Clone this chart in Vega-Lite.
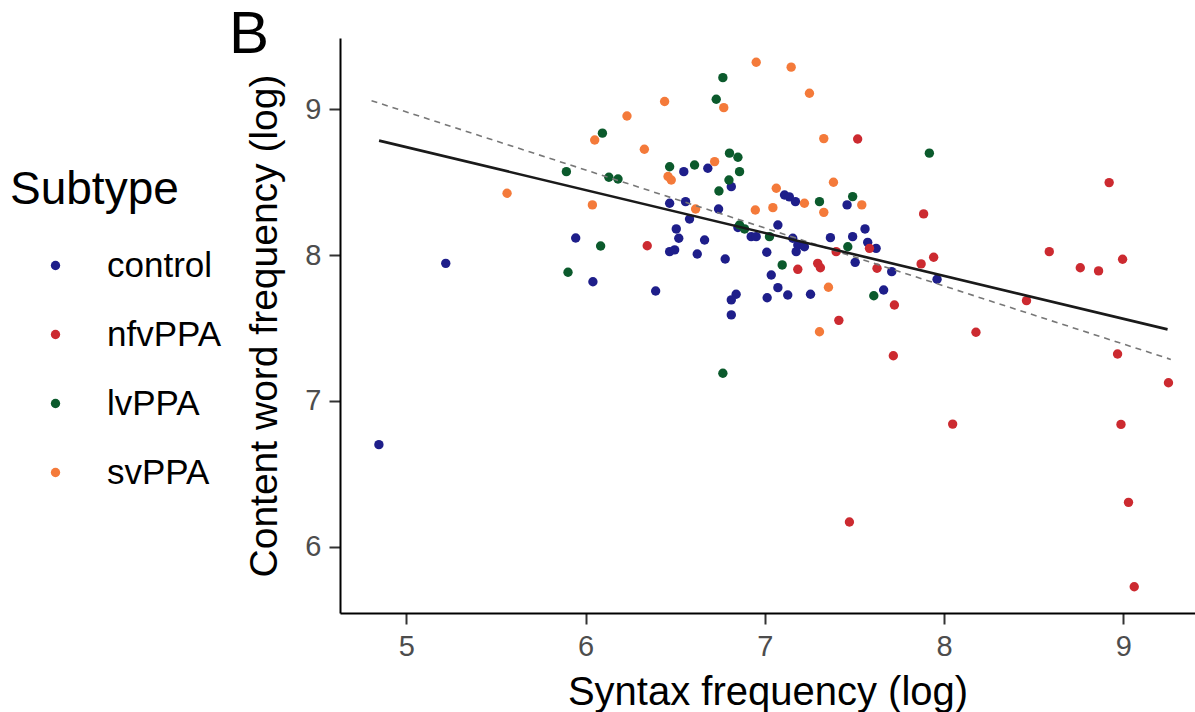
{
  "$schema": "https://vega.github.io/schema/vega-lite/v6.json",
  "width": 855,
  "height": 575,
  "autosize": {"type": "none"},
  "padding": {"left": 340, "top": 38, "right": 0, "bottom": 99},
  "background": "white",
  "title": {"text": "B", "anchor": "start", "frame": "bounds", "orient": "top", "fontSize": 60, "font": "Liberation Sans", "fontWeight": "normal", "color": "black", "dx": 219, "baseline": "alphabetic", "offset": -75},
  "datasets": {
    "points": [
      {"subtype": "control", "syntax": 4.847, "content": 6.70},
      {"subtype": "control", "syntax": 5.220, "content": 7.944},
      {"subtype": "control", "syntax": 5.945, "content": 8.118},
      {"subtype": "control", "syntax": 6.041, "content": 7.818},
      {"subtype": "control", "syntax": 6.391, "content": 7.754},
      {"subtype": "control", "syntax": 6.469, "content": 8.356},
      {"subtype": "control", "syntax": 6.558, "content": 8.367},
      {"subtype": "control", "syntax": 6.548, "content": 8.573},
      {"subtype": "control", "syntax": 6.682, "content": 8.596},
      {"subtype": "control", "syntax": 6.742, "content": 8.317},
      {"subtype": "control", "syntax": 6.580, "content": 8.248},
      {"subtype": "control", "syntax": 6.506, "content": 8.180},
      {"subtype": "control", "syntax": 6.520, "content": 8.116},
      {"subtype": "control", "syntax": 6.469, "content": 8.024},
      {"subtype": "control", "syntax": 6.497, "content": 8.036},
      {"subtype": "control", "syntax": 6.664, "content": 8.104},
      {"subtype": "control", "syntax": 6.623, "content": 8.008},
      {"subtype": "control", "syntax": 6.779, "content": 7.974},
      {"subtype": "control", "syntax": 6.840, "content": 7.732},
      {"subtype": "control", "syntax": 6.813, "content": 7.693},
      {"subtype": "control", "syntax": 6.813, "content": 7.590},
      {"subtype": "control", "syntax": 6.813, "content": 8.470},
      {"subtype": "control", "syntax": 7.110, "content": 8.413},
      {"subtype": "control", "syntax": 7.137, "content": 8.400},
      {"subtype": "control", "syntax": 7.171, "content": 8.367},
      {"subtype": "control", "syntax": 7.073, "content": 8.207},
      {"subtype": "control", "syntax": 6.924, "content": 8.127},
      {"subtype": "control", "syntax": 6.952, "content": 8.127},
      {"subtype": "control", "syntax": 7.156, "content": 8.116},
      {"subtype": "control", "syntax": 7.184, "content": 8.070},
      {"subtype": "control", "syntax": 7.221, "content": 8.058},
      {"subtype": "control", "syntax": 7.175, "content": 8.024},
      {"subtype": "control", "syntax": 7.366, "content": 8.120},
      {"subtype": "control", "syntax": 7.490, "content": 8.127},
      {"subtype": "control", "syntax": 7.559, "content": 8.180},
      {"subtype": "control", "syntax": 7.574, "content": 8.088},
      {"subtype": "control", "syntax": 7.621, "content": 8.047},
      {"subtype": "control", "syntax": 7.011, "content": 8.020},
      {"subtype": "control", "syntax": 7.504, "content": 7.951},
      {"subtype": "control", "syntax": 7.708, "content": 7.887},
      {"subtype": "control", "syntax": 7.036, "content": 7.864},
      {"subtype": "control", "syntax": 7.073, "content": 7.777},
      {"subtype": "control", "syntax": 7.128, "content": 7.727},
      {"subtype": "control", "syntax": 7.013, "content": 7.708},
      {"subtype": "control", "syntax": 7.255, "content": 7.732},
      {"subtype": "control", "syntax": 7.663, "content": 7.761},
      {"subtype": "control", "syntax": 7.459, "content": 8.345},
      {"subtype": "control", "syntax": 7.961, "content": 7.835},
      {"subtype": "control", "syntax": 6.850, "content": 8.190},
      {"subtype": "nfvPPA", "syntax": 6.344, "content": 8.065},
      {"subtype": "nfvPPA", "syntax": 7.518, "content": 8.797},
      {"subtype": "nfvPPA", "syntax": 7.584, "content": 8.047},
      {"subtype": "nfvPPA", "syntax": 7.398, "content": 8.024},
      {"subtype": "nfvPPA", "syntax": 7.626, "content": 7.910},
      {"subtype": "nfvPPA", "syntax": 7.184, "content": 7.903},
      {"subtype": "nfvPPA", "syntax": 7.295, "content": 7.944},
      {"subtype": "nfvPPA", "syntax": 7.310, "content": 7.914},
      {"subtype": "nfvPPA", "syntax": 7.723, "content": 7.658},
      {"subtype": "nfvPPA", "syntax": 7.413, "content": 7.553},
      {"subtype": "nfvPPA", "syntax": 7.717, "content": 7.310},
      {"subtype": "nfvPPA", "syntax": 7.472, "content": 6.169},
      {"subtype": "nfvPPA", "syntax": 8.921, "content": 8.498},
      {"subtype": "nfvPPA", "syntax": 7.886, "content": 8.283},
      {"subtype": "nfvPPA", "syntax": 8.587, "content": 8.024},
      {"subtype": "nfvPPA", "syntax": 7.942, "content": 7.986},
      {"subtype": "nfvPPA", "syntax": 7.872, "content": 7.940},
      {"subtype": "nfvPPA", "syntax": 8.760, "content": 7.914},
      {"subtype": "nfvPPA", "syntax": 8.862, "content": 7.892},
      {"subtype": "nfvPPA", "syntax": 8.996, "content": 7.972},
      {"subtype": "nfvPPA", "syntax": 8.460, "content": 7.688},
      {"subtype": "nfvPPA", "syntax": 8.178, "content": 7.471},
      {"subtype": "nfvPPA", "syntax": 8.968, "content": 7.322},
      {"subtype": "nfvPPA", "syntax": 9.252, "content": 7.125},
      {"subtype": "nfvPPA", "syntax": 8.048, "content": 6.841},
      {"subtype": "nfvPPA", "syntax": 8.987, "content": 6.839},
      {"subtype": "nfvPPA", "syntax": 9.029, "content": 6.304},
      {"subtype": "nfvPPA", "syntax": 9.061, "content": 5.725},
      {"subtype": "lvPPA", "syntax": 5.893, "content": 8.573},
      {"subtype": "lvPPA", "syntax": 5.902, "content": 7.883},
      {"subtype": "lvPPA", "syntax": 6.766, "content": 9.218},
      {"subtype": "lvPPA", "syntax": 6.729, "content": 9.070},
      {"subtype": "lvPPA", "syntax": 6.094, "content": 8.837},
      {"subtype": "lvPPA", "syntax": 6.803, "content": 8.700},
      {"subtype": "lvPPA", "syntax": 6.850, "content": 8.672},
      {"subtype": "lvPPA", "syntax": 6.859, "content": 8.573},
      {"subtype": "lvPPA", "syntax": 6.469, "content": 8.607},
      {"subtype": "lvPPA", "syntax": 6.608, "content": 8.619},
      {"subtype": "lvPPA", "syntax": 6.130, "content": 8.535},
      {"subtype": "lvPPA", "syntax": 6.181, "content": 8.523},
      {"subtype": "lvPPA", "syntax": 6.800, "content": 8.516},
      {"subtype": "lvPPA", "syntax": 6.744, "content": 8.440},
      {"subtype": "lvPPA", "syntax": 6.084, "content": 8.063},
      {"subtype": "lvPPA", "syntax": 6.859, "content": 8.207},
      {"subtype": "lvPPA", "syntax": 6.887, "content": 8.180},
      {"subtype": "lvPPA", "syntax": 7.305, "content": 8.367},
      {"subtype": "lvPPA", "syntax": 7.490, "content": 8.402},
      {"subtype": "lvPPA", "syntax": 7.026, "content": 8.127},
      {"subtype": "lvPPA", "syntax": 7.463, "content": 8.058},
      {"subtype": "lvPPA", "syntax": 7.097, "content": 7.933},
      {"subtype": "lvPPA", "syntax": 7.608, "content": 7.722},
      {"subtype": "lvPPA", "syntax": 6.766, "content": 7.190},
      {"subtype": "lvPPA", "syntax": 7.918, "content": 8.700},
      {"subtype": "svPPA", "syntax": 5.562, "content": 8.425},
      {"subtype": "svPPA", "syntax": 6.771, "content": 9.012},
      {"subtype": "svPPA", "syntax": 6.441, "content": 9.054},
      {"subtype": "svPPA", "syntax": 6.231, "content": 8.955},
      {"subtype": "svPPA", "syntax": 6.051, "content": 8.790},
      {"subtype": "svPPA", "syntax": 6.328, "content": 8.727},
      {"subtype": "svPPA", "syntax": 6.720, "content": 8.642},
      {"subtype": "svPPA", "syntax": 6.478, "content": 8.516},
      {"subtype": "svPPA", "syntax": 6.460, "content": 8.540},
      {"subtype": "svPPA", "syntax": 6.038, "content": 8.345},
      {"subtype": "svPPA", "syntax": 6.614, "content": 8.317},
      {"subtype": "svPPA", "syntax": 6.952, "content": 9.324},
      {"subtype": "svPPA", "syntax": 7.147, "content": 9.290},
      {"subtype": "svPPA", "syntax": 7.249, "content": 9.111},
      {"subtype": "svPPA", "syntax": 7.329, "content": 8.800},
      {"subtype": "svPPA", "syntax": 7.383, "content": 8.500},
      {"subtype": "svPPA", "syntax": 7.064, "content": 8.459},
      {"subtype": "svPPA", "syntax": 7.221, "content": 8.356},
      {"subtype": "svPPA", "syntax": 7.329, "content": 8.294},
      {"subtype": "svPPA", "syntax": 7.541, "content": 8.345},
      {"subtype": "svPPA", "syntax": 6.947, "content": 8.310},
      {"subtype": "svPPA", "syntax": 7.045, "content": 8.326},
      {"subtype": "svPPA", "syntax": 7.355, "content": 7.780},
      {"subtype": "svPPA", "syntax": 7.305, "content": 7.475}
    ],
    "fits": [
      {"model": "solid", "syntax": 4.848, "content": 8.786},
      {"model": "solid", "syntax": 9.247, "content": 7.491},
      {"model": "dashed", "syntax": 4.806, "content": 9.060},
      {"model": "dashed", "syntax": 9.265, "content": 7.285}
    ]
  },
  "layer": [
    {
      "data": {"name": "points"},
      "mark": {"type": "circle", "size": 88, "opacity": 1},
      "encoding": {
        "x": {"field": "syntax", "type": "quantitative", "scale": {"domain": [4.63, 9.40], "nice": false, "zero": false}, "axis": {"title": "Syntax frequency (log)", "values": [5, 6, 7, 8, 9], "format": "d", "titlePadding": 11, "titleFontSize": 40}},
        "y": {"field": "content", "type": "quantitative", "scale": {"domain": [5.545, 9.49], "nice": false, "zero": false}, "axis": {"title": "Content word frequency (log)", "values": [6, 7, 8, 9], "format": "d", "titlePadding": 20}},
        "color": {"field": "subtype", "type": "nominal", "title": "Subtype", "scale": {"domain": ["control", "nfvPPA", "lvPPA", "svPPA"], "range": ["#1e1e8a", "#cc2a30", "#0b5a2c", "#f47a3a"]}}
      }
    },
    {
      "data": {"name": "fits"},
      "transform": [{"filter": "datum.model == 'dashed'"}],
      "mark": {"type": "line", "color": "#777777", "strokeWidth": 1.6, "strokeDash": [6, 5]},
      "encoding": {
        "x": {"field": "syntax", "type": "quantitative"},
        "y": {"field": "content", "type": "quantitative"}
      }
    },
    {
      "data": {"name": "fits"},
      "transform": [{"filter": "datum.model == 'solid'"}],
      "mark": {"type": "line", "color": "#1a1a1a", "strokeWidth": 2.6},
      "encoding": {
        "x": {"field": "syntax", "type": "quantitative"},
        "y": {"field": "content", "type": "quantitative"}
      }
    }
  ],
  "config": {
    "view": {"stroke": null},
    "font": "Liberation Sans",
    "axis": {
      "grid": false,
      "domainColor": "black",
      "domainWidth": 2,
      "tickColor": "#333333",
      "tickWidth": 2,
      "tickSize": 11,
      "labelFont": "Liberation Sans",
      "labelFontSize": 29,
      "labelColor": "#4d4d4d",
      "labelPadding": 8,
      "titleFont": "Liberation Sans",
      "titleFontSize": 39,
      "titleFontWeight": "normal",
      "titleColor": "black"
    },
    "legend": {
      "orient": "none",
      "legendX": -330,
      "legendY": 130,
      "titleFont": "Liberation Sans",
      "titleFontSize": 46,
      "titleFontWeight": "normal",
      "titleColor": "black",
      "titlePadding": 34,
      "labelFont": "Liberation Sans",
      "labelFontSize": 35,
      "labelColor": "black",
      "symbolType": "circle",
      "symbolSize": 88,
      "symbolOffset": 28,
      "symbolStrokeWidth": 0,
      "labelOffset": 34,
      "rowPadding": 33,
      "padding": 0
    }
  }
}
